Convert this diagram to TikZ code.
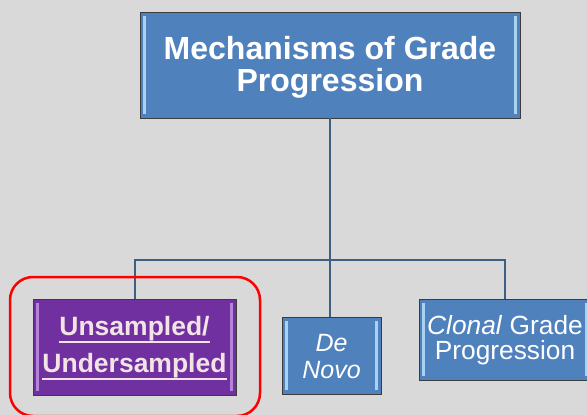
\documentclass[tikz,border=0pt]{standalone}
\usepackage{fontspec}
\setmainfont{Liberation Sans}
\newsavebox\ulsave
\newcommand\myuline[1]{\sbox\ulsave{#1}\rlap{\rule[-6.8pt]{\wd\ulsave}{1.8pt}}\usebox\ulsave}
\definecolor{bg}{HTML}{D9D9D9}
\definecolor{boxblue}{HTML}{4F81BD}
\definecolor{barblue}{HTML}{A9D2F2}
\definecolor{boxpurple}{HTML}{7030A0}
\definecolor{barpurple}{HTML}{B583DA}
\definecolor{edgegray}{HTML}{3C3C3C}
\definecolor{linkblue}{HTML}{3E5F82}
\definecolor{purpletext}{HTML}{F2E4E6}
\definecolor{hilite}{HTML}{FF0000}
\tikzset{
  bevelbox/.style 2 args={draw=edgegray, line width=0.9pt, fill=#1, inner sep=0pt,
    path picture={
      \fill[#2] ([xshift=3pt,yshift=-4pt]path picture bounding box.north west) rectangle ([xshift=6pt,yshift=4pt]path picture bounding box.south west);
      \fill[#2] ([xshift=-6pt,yshift=-4pt]path picture bounding box.north east) rectangle ([xshift=-3pt,yshift=4pt]path picture bounding box.south east);
    }},
  bluebox/.style={bevelbox={boxblue}{barblue}},
  purplebox/.style={bevelbox={boxpurple}{barpurple}},
  label/.style={align=center, inner sep=0pt},
  link/.style={draw=linkblue, line width=2pt},
}
\begin{document}
\begin{tikzpicture}[x=1pt, y=-1pt]
\clip (0,0) rectangle (587,415);
\fill[bg] (0,0) rectangle (587,415);
% boxes
\node[bluebox, minimum width=380pt, minimum height=106pt] (top) at (330,65) {};
\node[purplebox, minimum width=203pt, minimum height=96pt] (uns) at (134.5,347) {};
\node[bluebox, minimum width=99pt, minimum height=77pt] (denovo) at (331.5,355.5) {};
\node[bluebox, minimum width=172pt, minimum height=81pt] (clon) at (505,339.5) {};
% texts
\node[label, text=white, font=\fontsize{32}{32}\selectfont\bfseries] (toptext) at (330,67) {Mechanisms of Grade\\Progression};
\node[label, text=purpletext, font=\fontsize{26.5}{37}\selectfont\bfseries] (unstext) at (134.5,348) {\myuline{Unsampled/}\\\myuline{Undersampled}};
\node[label, text=white, font=\fontsize{25}{27}\selectfont\itshape] (dntext) at (331.5,357) {De\\Novo};
\node[label, text=white, font=\fontsize{26.3}{24.5}\selectfont] (clontext) at (505,340) {\textit{Clonal} Grade\\Progression};
% connectors
\coordinate (j) at (330,260);
\draw[link] (top.south) -- (j);
\draw[link] (j) -| (uns.north);
\draw[link] (j) -| (clon.north);
\draw[link] (j) -- (j |- denovo.north);
% highlight
\draw[hilite, line width=2.5pt, rounded corners=23pt] (10,277) rectangle (260,416);
\end{tikzpicture}
\end{document}
